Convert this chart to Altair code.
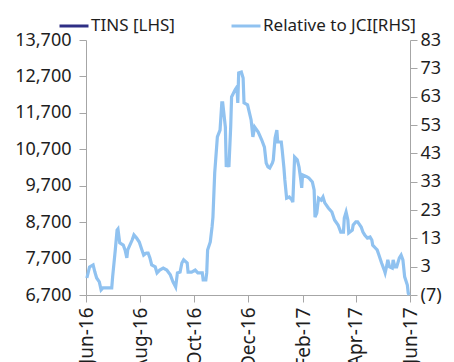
import altair as alt
import pandas as pd

# ---- data ----
series_names = ["TINS [LHS]", "Relative to JCI[RHS]"]
series_colors = ["#2E2F85", "#90C2F0"]

rel_dates = [
    "2016-06-02", "2016-06-05", "2016-06-09", "2016-06-11", "2016-06-13", "2016-06-16", "2016-06-18",
    "2016-06-20", "2016-06-30", "2016-07-01", "2016-07-04", "2016-07-06", "2016-07-07", "2016-07-09",
    "2016-07-13", "2016-07-15", "2016-07-17", "2016-07-18", "2016-07-23", "2016-07-25", "2016-07-28",
    "2016-07-31", "2016-08-03", "2016-08-05", "2016-08-08", "2016-08-10", "2016-08-12", "2016-08-14",
    "2016-08-18", "2016-08-20", "2016-08-23", "2016-08-27", "2016-08-31", "2016-09-04", "2016-09-07",
    "2016-09-10", "2016-09-12", "2016-09-15", "2016-09-17", "2016-09-19", "2016-09-23", "2016-09-24",
    "2016-09-28", "2016-10-02", "2016-10-05", "2016-10-10", "2016-10-11", "2016-10-14", "2016-10-15",
    "2016-10-16", "2016-10-19", "2016-10-21", "2016-10-22", "2016-10-24", "2016-10-27", "2016-10-30",
    "2016-11-01", "2016-11-02", "2016-11-05", "2016-11-06", "2016-11-07", "2016-11-09", "2016-11-11",
    "2016-11-12", "2016-11-16", "2016-11-18", "2016-11-19", "2016-11-20", "2016-11-23", "2016-11-25",
    "2016-11-26", "2016-11-30", "2016-12-04", "2016-12-06", "2016-12-08", "2016-12-12", "2016-12-16",
    "2016-12-19", "2016-12-21", "2016-12-23", "2016-12-25", "2016-12-28", "2016-12-29", "2016-12-31",
    "2017-01-02", "2017-01-03", "2017-01-07", "2017-01-08", "2017-01-10", "2017-01-11", "2017-01-13",
    "2017-01-16", "2017-01-19", "2017-01-20", "2017-01-22", "2017-01-25", "2017-01-27", "2017-01-29",
    "2017-01-30", "2017-01-31", "2017-02-05", "2017-02-07", "2017-02-11", "2017-02-13", "2017-02-14",
    "2017-02-16", "2017-02-18", "2017-02-21", "2017-02-23", "2017-02-25", "2017-03-01", "2017-03-05",
    "2017-03-08", "2017-03-12", "2017-03-15", "2017-03-18", "2017-03-19", "2017-03-21", "2017-03-23",
    "2017-03-24", "2017-03-28", "2017-03-29", "2017-04-01", "2017-04-03", "2017-04-07", "2017-04-09",
    "2017-04-11", "2017-04-14", "2017-04-17", "2017-04-19", "2017-04-20", "2017-04-23", "2017-04-25",
    "2017-04-27", "2017-04-30", "2017-05-03", "2017-05-04", "2017-05-06", "2017-05-07", "2017-05-09",
    "2017-05-12", "2017-05-13", "2017-05-15", "2017-05-17", "2017-05-20", "2017-05-22", "2017-05-24",
    "2017-05-26", "2017-05-29", "2017-05-30", "2017-05-31",
]
rel_values = [
    -1.0, 2.9, 3.6, 1.1, -1.0, -2.4, -5.2,
    -4.5, -4.5, -0.6, 8.9, 15.9, 16.3, 11.4,
    10.6, 8.9, 6.1, 8.9, 12.4, 14.2, 13.1,
    11.7, 8.9, 7.1, 7.8, 7.8, 6.1, 3.6,
    2.9, 0.8, 1.8, 2.5, 1.8, 0.1, -2.4,
    -4.2, 0.8, 1.1, 4.3, 5.4, 4.3, 1.1,
    1.1, 1.8, 0.8, 0.8, -1.7, -1.7, 0.8,
    8.9, 11.7, 17.0, 20.5, 36.1, 48.8, 51.2,
    60.8, 60.8, 52.3, 38.2, 39.6, 38.2, 52.3,
    62.9, 65.4, 66.4, 60.8, 71.4, 71.7, 69.6,
    60.8, 60.1, 54.8, 48.8, 52.3, 50.5, 47.7,
    45.2, 39.6, 38.2, 37.8, 39.6, 40.7, 48.4,
    51.2, 47.0, 47.0, 44.2, 37.8, 33.6, 27.2,
    27.6, 26.5, 25.8, 41.7, 40.7, 38.2, 33.6,
    30.8, 35.4, 34.7, 34.3, 32.9, 30.1, 20.5,
    21.9, 27.2, 26.5, 27.6, 25.5, 23.7, 22.3,
    19.5, 17.7, 15.2, 15.2, 20.2, 22.3, 19.5,
    14.9, 15.9, 17.7, 18.8, 18.8, 17.0, 15.2,
    14.2, 13.1, 13.5, 12.4, 10.6, 9.6, 8.9,
    7.1, 4.3, 1.8, 0.8, 3.6, 5.4, 2.9,
    2.5, 5.4, 2.9, 2.9, 6.1, 7.1, 5.4,
    -0.6, -3.5, -6.3, -7.0,
]

left_ticks = [6700, 7700, 8700, 9700, 10700, 11700, 12700, 13700]
right_ticks = [-7, 3, 13, 23, 33, 43, 53, 63, 73, 83]
x_tick_months = [(2016, 6), (2016, 8), (2016, 10), (2016, 12), (2017, 2), (2017, 4), (2017, 6)]

FONT = "Noto Sans"
AXIS_GREY = "#A6A6A6"
TEXT = "#1E1E1E"

rel_df = pd.DataFrame({"date": rel_dates, "value": rel_values, "series": series_names[1]})

x_scale = alt.Scale(
    type="utc",
    domain=[alt.DateTime(year=2016, month=6, date=1, utc=True),
            alt.DateTime(year=2017, month=6, date=1, utc=True)],
    nice=False,
)
x_axis = alt.Axis(
    values=[alt.DateTime(year=y, month=m, date=1, utc=True) for y, m in x_tick_months],
    labelExpr="utcFormat(datum.value, '%b-%y')", labelAngle=270, title=None,
    tickSize=7, labelPadding=5, labelFontSize=19,
)
color = alt.Color(
    "series:N",
    scale=alt.Scale(domain=series_names, range=series_colors),
    legend=alt.Legend(
        title=None, orient="none", legendX=-28, legendY=-30, direction="horizontal",
        symbolType="stroke", symbolStrokeWidth=3, symbolSize=841,
        labelFont=FONT, labelFontSize=17, labelColor=TEXT, labelOffset=1,
        labelLimit=400, columnPadding=50, padding=0,
    ),
)

left = alt.Chart(alt.Data(values=[])).mark_line(strokeWidth=2.5).encode(
    x=alt.X("date:T", scale=x_scale, axis=x_axis),
    y=alt.Y("value:Q",
            scale=alt.Scale(domain=[6700, 13700], nice=False, zero=False),
            axis=alt.Axis(orient="left", values=left_ticks, title=None,
                          labelExpr="format(datum.value, ',')",
                          tickSize=7, labelPadding=8)),
    color=color,
)

right = alt.Chart(rel_df).mark_line(strokeWidth=3.2).encode(
    x=alt.X("date:T", scale=x_scale, axis=x_axis),
    y=alt.Y("value:Q",
            scale=alt.Scale(domain=[-7, 83], nice=False, zero=False),
            axis=alt.Axis(orient="right", values=right_ticks, title=None, tickSize=7,
                          labelPadding=3,
                          labelExpr="datum.value < 0 ? '(' + abs(datum.value) + ')' : datum.value")),
    color=color,
)

chart = alt.layer(left, right).resolve_scale(y="independent").properties(
    width=324, height=255,
    autosize=alt.AutoSizeParams(type="none"),
    padding={"left": 86, "top": 40, "right": 44, "bottom": 67},
).configure_view(stroke=None).configure_axis(
    grid=False, domainColor=AXIS_GREY, tickColor=AXIS_GREY,
    labelFont=FONT, labelFontSize=18, labelColor=TEXT,
)

chart.save("out.html", embed_options={"renderer": "svg", "actions": False})
